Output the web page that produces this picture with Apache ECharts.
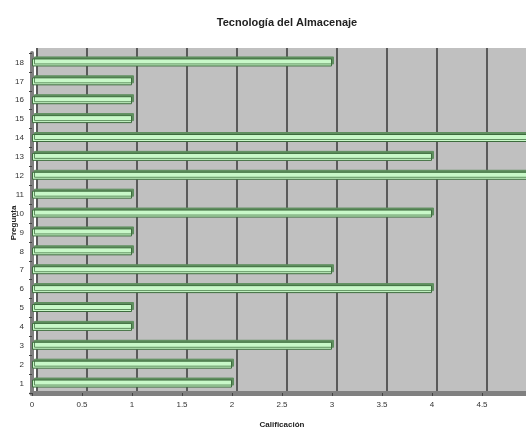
<!DOCTYPE html>
<html>
<head>
<meta charset="utf-8">
<script src="https://cdn.jsdelivr.net/npm/echarts@6/dist/echarts.min.js"></script>
<style>html,body{margin:0;padding:0;background:#fff}#c{width:526px;height:427px}</style>
</head>
<body>
<div id="c"></div>
<script>
var categories = ['1','2','3','4','5','6','7','8','9','10','11','12','13','14','15','16','17','18'];
var values = [2,2,3,1,1,4,3,1,1,4,1,5,4,5,1,1,1,3];
var titleText = 'Tecnología del Almacenaje';
var xName = 'Calificación';
var yName = 'Pregunta';

var chart = echarts.init(document.getElementById('c'));
var font = 'Liberation Sans, Arial, sans-serif';
chart.setOption({
  animation: false,
  title: {text: titleText, left: 282, top: 12, textAlign: 'center',
    textStyle: {fontFamily: font, fontSize: 11, fontWeight: 'bold', color: '#222'}},
  grid: [
    {left: 37, top: 48, width: 500, bottom: 35, show: true, backgroundColor: '#c0c0c0', borderWidth: 0,
      containLabel: false, outerBoundsMode: 'none'},
    {left: 32, top: 53, width: 500, bottom: 34, show: false,
      containLabel: false, outerBoundsMode: 'none'}
  ],
  xAxis: [
    {gridIndex: 0, type: 'value', min: 0, max: 5, interval: 0.5,
      axisLabel: {show: false}, axisLine: {show: false}, axisTick: {show: false},
      splitLine: {show: true, lineStyle: {color: '#5a5a5a', width: 2}}},
    {gridIndex: 1, type: 'value', min: 0, max: 5, interval: 0.5,
      axisLabel: {show: true, fontFamily: font, fontSize: 8, color: '#333', margin: 8},
      axisLine: {show: true, lineStyle: {color: '#808080', width: 5}},
      axisTick: {show: true, length: 3, lineStyle: {color: '#444', width: 1}},
      splitLine: {show: false},
      name: xName, nameLocation: 'middle', nameGap: 28, nameMoveOverlap: false,
      nameTextStyle: {fontFamily: font, fontSize: 8, fontWeight: 'bold', color: '#222'}}
  ],
  yAxis: [
    {gridIndex: 0, type: 'category', data: categories, show: false},
    {gridIndex: 1, type: 'category', data: categories,
      axisLabel: {show: true, fontFamily: font, fontSize: 8, color: '#333', margin: 8},
      axisLine: {show: true, lineStyle: {color: '#808080', width: 4}},
      axisTick: {show: true, length: 3, lineStyle: {color: '#444'}},
      name: yName, nameLocation: 'middle', nameGap: 14, nameRotate: 90, nameMoveOverlap: false,
      nameTextStyle: {fontFamily: font, fontSize: 8, fontWeight: 'bold', color: '#222'}}
  ],
  series: [{
    type: 'bar', xAxisIndex: 1, yAxisIndex: 1, data: values, barWidth: 8,
    itemStyle: {color: '#c8f8c8', borderColor: '#3d6b3d', borderWidth: 1,
      shadowColor: '#5f8f5f', shadowBlur: 0, shadowOffsetX: 2, shadowOffsetY: -2}
  }]
});
</script>
</body>
</html>
